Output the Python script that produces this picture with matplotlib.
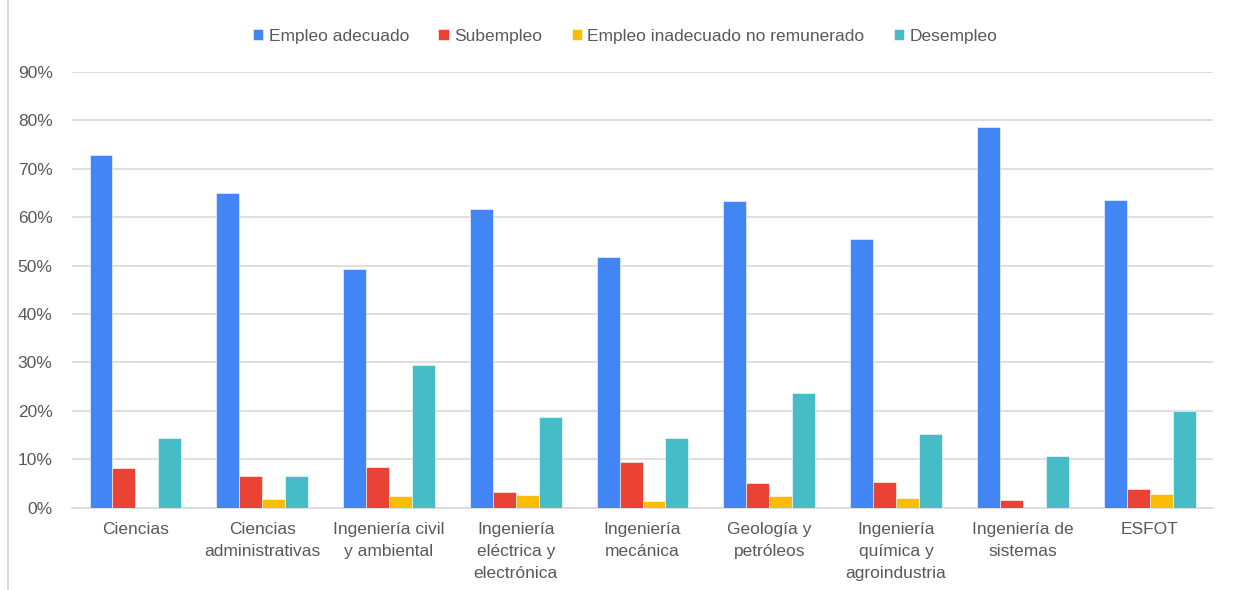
import numpy as np
import matplotlib
matplotlib.use("Agg")
import matplotlib.pyplot as plt
from matplotlib.lines import Line2D
from matplotlib.ticker import PercentFormatter

plt.rcParams['font.family'] = ['Liberation Sans', 'DejaVu Sans']

categorias = ["Ciencias", "Ciencias\nadministrativas", "Ingeniería civil\ny ambiental",
              "Ingeniería\neléctrica y\nelectrónica", "Ingeniería\nmecánica",
              "Geología y\npetróleos", "Ingeniería\nquímica y\nagroindustria",
              "Ingeniería de\nsistemas", "ESFOT"]
series = ["Empleo adecuado", "Subempleo", "Empleo inadecuado no remunerado", "Desempleo"]
colores = ["#4285F4", "#EA4335", "#FBBC04", "#46BDC6"]

empleo_adecuado = [72.9, 65.0, 49.3, 61.7, 51.7, 63.4, 55.5, 78.6, 63.6]
subempleo = [8.3, 6.5, 8.5, 3.2, 9.5, 5.2, 5.4, 1.6, 3.8]
no_remunerado = [0.0, 1.8, 2.4, 2.6, 1.4, 2.4, 2.0, 0.0, 2.8]
desempleo = [14.3, 6.5, 29.5, 18.7, 14.3, 23.6, 15.2, 10.6, 20.0]
valores = [empleo_adecuado, subempleo, no_remunerado, desempleo]

texto = "#595959"
fig = plt.figure(figsize=(12.33, 5.9), dpi=100)
ax = fig.add_axes([0.0584, 0.1395, 0.9254, 0.7385])

x = np.arange(len(categorias))
ancho = 0.181
for i, (nombre, vals) in enumerate(zip(series, valores)):
    ax.bar(x + (i - 1.5) * ancho, vals, ancho, color=colores[i], label=nombre,
           edgecolor="white", linewidth=0.4, zorder=3)

ax.set_xlim(-0.5, len(categorias) - 0.5)
ax.set_ylim(0, 90)
ax.set_yticks(np.arange(0, 91, 10))
ax.yaxis.set_major_formatter(PercentFormatter(decimals=0))
ax.set_xticks(x)
ax.set_xticklabels(categorias, linespacing=1.6)
ax.grid(axis="y", color="#d9d9d9", linewidth=1.2, zorder=0)
for s in ["top", "right", "left"]:
    ax.spines[s].set_visible(False)
ax.spines["bottom"].set_color("#d9d9d9")
ax.spines["bottom"].set_linewidth(1.2)
ax.tick_params(axis="both", length=0, colors=texto, labelsize=12.5)
ax.tick_params(axis="y", pad=14)
ax.tick_params(axis="x", pad=10)
for t in ax.get_xticklabels() + ax.get_yticklabels():
    t.set_color(texto)

fig.legend(loc="upper center", bbox_to_anchor=(0.507, 0.978), ncol=4, frameon=False,
           fontsize=12.5, handlelength=0.6, handleheight=0.6, handletextpad=0.3,
           columnspacing=1.7, labelcolor=texto)

fig.add_artist(Line2D([0.0065, 0.0065], [0, 1], color="#d0d0d0", linewidth=1.2))

fig.savefig("out.png", dpi=100, facecolor="white")
